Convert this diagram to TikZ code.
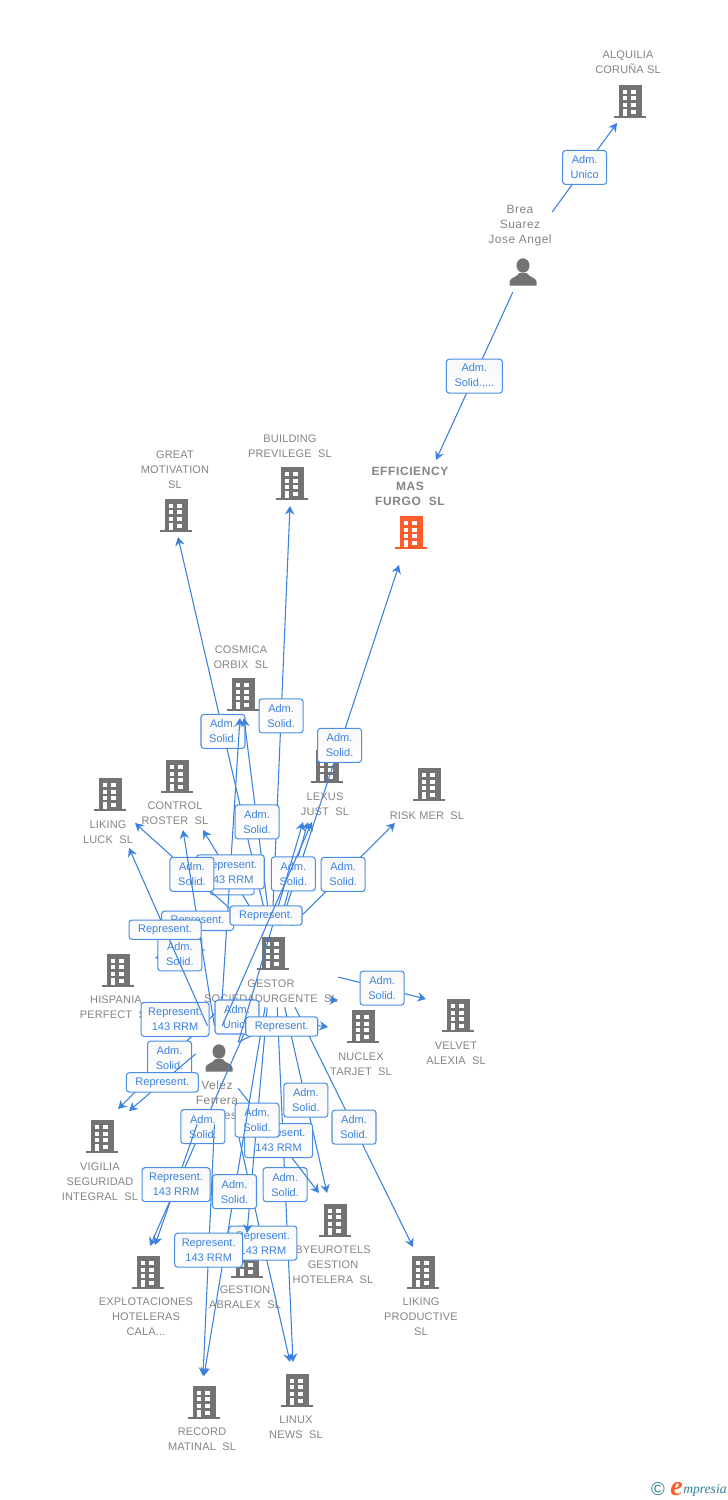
\documentclass[tikz,border=0pt]{standalone}
\usepackage{fontspec}
\usepackage{tikz}
\usetikzlibrary{arrows.meta, shapes.geometric}
\setmainfont{Liberation Sans}
\newfontfamily\firmfont[LetterSpace=1.5]{Liberation Sans}
\newfontfamily\personfont[LetterSpace=4]{Liberation Sans}
\newfontfamily\mainfirm[LetterSpace=5]{Liberation Sans}
\newfontfamily\logofont{Liberation Serif}
\definecolor{relblue}{HTML}{3B82E0}
\definecolor{relborder}{HTML}{4A90E2}
\definecolor{iconcol}{HTML}{737373}
\definecolor{labelcol}{HTML}{858585}
\definecolor{mainorange}{HTML}{FF5C2B}
\definecolor{logoteal}{HTML}{2E7F9B}
\tikzset{
  pics/building/.style={code={
    \fill[#1] (-11.5,-16.5) rectangle (11.5,14.5);
    \fill[#1] (-16,14.5) rectangle (16,16.5);
    \foreach \wy in {-11.5,-4.8,1.8,8.5}
      \fill[white] (0.9,\wy) rectangle (6,\wy+4);
    \foreach \wy in {-11.5,-4.8,1.8}
      \fill[white] (-7.2,\wy) rectangle (-2.8,\wy+4);
    \fill[white] (-7.2,7.5) rectangle (-2.8,14.5);
  }},
  pics/person/.style={code={
    \fill[iconcol] (0,-6.5) ellipse [x radius=6.5, y radius=7.2];
    \fill[iconcol] (-13.5,13.5) -- (-13.5,9.5) .. controls (-13,5.5) and (-6.5,5.5) .. (-3.5,1)
      -- (3.5,1) .. controls (6.5,5.5) and (13,5.5) .. (13.5,9.5) -- (13.5,13.5) -- cycle;
  }}
}
\begin{document}
\begin{tikzpicture}[
  x=0.75pt, y=-0.75pt,
  >={Stealth[length=6.4pt, width=7pt]},
  firmlabel/.style={text=labelcol, inner sep=0pt, align=center, yshift=-0.75pt, font=\firmfont\fontsize{8.25}{11.25}\selectfont},
  personlabel/.style={text=labelcol, inner sep=0pt, align=center, font=\personfont\fontsize{9}{11.25}\selectfont},
  srcnode/.style={rectangle, inner sep=0pt},
  flow/.style={->, relblue, line width=0.8pt},
  relbox/.style={draw=relborder, line width=0.8pt, rounded corners=2.2pt, top color=black!3, bottom color=white, text=relblue,
    inner sep=0pt, align=center, minimum width=33pt, minimum height=25.5pt, font=\fontsize{8.25}{11.25}\selectfont},
  relwide/.style={relbox, minimum width=51pt},
  relflat/.style={relbox, minimum width=54pt, minimum height=14.5pt}
]
\useasboundingbox (0,0) rectangle (728,1500);
\fill[white] (0,0) rectangle (728,1500);

% source nodes
\node[srcnode, minimum width=48pt, minimum height=68.25pt] (brea) at (520,246.5) {};
\node[srcnode, minimum width=99.75pt, minimum height=60.75pt] (gestor) at (271.5,966.5) {};
\node[srcnode, minimum width=31.5pt, minimum height=73.5pt] (velez) at (217,1075) {};

% icons
\pic at (630,101) {building=iconcol};
\pic at (411,532.5) {building=mainorange};
\pic at (292,483.5) {building=iconcol};
\pic at (176,515) {building=iconcol};
\pic at (243,694.5) {building=iconcol};
\pic at (177,776.5) {building=iconcol};
\pic at (110,794.5) {building=iconcol};
\pic at (327,766.5) {building=iconcol};
\pic at (429,784.5) {building=iconcol};
\pic at (273,953.5) {building=iconcol};
\pic at (118,970) {building=iconcol};
\pic at (363,1026.5) {building=iconcol};
\pic at (458,1015.5) {building=iconcol};
\pic at (102,1136.5) {building=iconcol};
\pic at (148,1272.5) {building=iconcol};
\pic at (247,1261) {building=iconcol};
\pic at (335,1220) {building=iconcol};
\pic at (423,1272.5) {building=iconcol};
\pic at (204,1402) {building=iconcol};
\pic at (297,1390) {building=iconcol};
\pic at (523,272) {person};
\pic at (219,1058) {person};

% labels
\node[firmlabel] (lAlquilia) at (628,61.5) {ALQUILIA\\CORUÑA SL};
\node[personlabel] (lBrea) at (520,226) {Brea\\Suarez\\Jose Angel};
\node[firmlabel, font=\mainfirm\bfseries\fontsize{9}{11.25}\selectfont] (lEfficiency) at (410,485) {EFFICIENCY\\MAS\\FURGO~~SL};
\node[firmlabel] (lPrevilege) at (290,445.5) {BUILDING\\PREVILEGE~~SL};
\node[firmlabel] (lGreat) at (175,469) {GREAT\\MOTIVATION\\SL};
\node[firmlabel] (lCosmica) at (241,656.5) {COSMICA\\ORBIX~~SL};
\node[firmlabel] (lControl) at (175,812.5) {CONTROL\\ROSTER~~SL};
\node[firmlabel] (lLuck) at (108,831.5) {LIKING\\LUCK~~SL};
\node[firmlabel] (lLexus) at (325,803.5) {LEXUS\\JUST~~SL};
\node[firmlabel] (lRisk) at (427,815) {RISK MER~~SL};
\node[firmlabel] (lGestor) at (271,990.5) {GESTOR\\SOCIEDADURGENTE~~SL};
\node[firmlabel] (lHispania) at (116,1006.5) {HISPANIA\\PERFECT~~SL};
\node[firmlabel] (lNuclex) at (361,1063.5) {NUCLEX\\TARJET~~SL};
\node[firmlabel] (lVelvet) at (456,1052.5) {VELVET\\ALEXIA~~SL};
\node[personlabel] (lVelez) at (217,1100) {Velez\\Ferrera\\\phantom{Andr}es};
\node[firmlabel] (lVigilia) at (100,1181) {VIGILIA\\SEGURIDAD\\INTEGRAL~~SL};
\node[firmlabel] (lByeurotels) at (333,1264) {BYEUROTELS\\GESTION\\HOTELERA~~SL};
\node[firmlabel] (lProductive) at (421,1316) {LIKING\\PRODUCTIVE\\SL};
\node[firmlabel] (lExplot) at (146,1316) {EXPLOTACIONES\\HOTELERAS\\CALA...};
\node[firmlabel] (lAbralex) at (245,1296.5) {GESTION\\ABRALEX~~SL};
\node[firmlabel] (lRecord) at (202,1438.5) {RECORD\\MATINAL~~SL};
\node[firmlabel] (lLinux) at (296,1426.5) {LINUX\\NEWS~~SL};

% arrow ends
\coordinate (tAlquilia) at (617,123);
\coordinate (tEfficiencyA) at (436,460);
\coordinate (tEfficiencyB) at (399,565);
\coordinate (tPrevilege) at (290,506);
\coordinate (tGreat) at (178,537);
\coordinate (tCosmicaA) at (244,718);
\coordinate (tCosmicaB) at (240,718);
\coordinate (tControlA) at (203,830);
\coordinate (tControlB) at (183,830);
\coordinate (tLuckA) at (135,823);
\coordinate (tLuckB) at (129,848);
\coordinate (tLexusA) at (308,822);
\coordinate (tLexusB) at (303,822);
\coordinate (tLexusC) at (312,822);
\coordinate (tRisk) at (395,823);
\coordinate (tHispaniaA) at (155,958);
\coordinate (tHispaniaB) at (141,1013);
\coordinate (tVelvet) at (426,999);
\coordinate (tNuclexA) at (328,1027);
\coordinate (tNuclexB) at (338,1000);
\coordinate (sNuclexB) at (330,1000);
\coordinate (tVigiliaA) at (118,1109);
\coordinate (tVigiliaB) at (129,1111);
\coordinate (tExplotA) at (150,1246);
\coordinate (tExplotB) at (155,1245);
\coordinate (tAbralex) at (247,1233);
\coordinate (tByeuroA) at (327,1193);
\coordinate (tByeuroB) at (319,1193);
\coordinate (tProductive) at (413,1247);
\coordinate (tRecordA) at (204,1376);
\coordinate (tRecordB) at (203,1376);
\coordinate (tLinuxA) at (293,1362);
\coordinate (tLinuxB) at (290,1362);

% brea
\draw[flow] (brea.47) -- node[relbox] (rAlquilia) {Adm.\\Unico} (tAlquilia);
\draw[flow] (brea.-99) -- node[relbox, minimum width=42pt] (rEfficiencyA) {Adm.\\Solid.,...} (tEfficiencyA);

% gestor, upwards
\draw[flow] (gestor.95) -- node[relbox] (rGreat) {Adm.\\Solid.} (tGreat);
\draw[flow] (gestor.89) -- node[relbox] (rPrevilege) {Adm.\\Solid.} (tPrevilege);
\draw[flow] (gestor.78) -- node[relbox] (rEfficiencyB) {Adm.\\Solid.} (tEfficiencyB);
\draw[flow] (gestor.92) -- node[relbox] (rCosmicaA) {Adm.\\Solid.} (tCosmicaA);
\draw[flow] (gestor.104) -- node[relbox] (rControlA) {} (tControlA);
\draw[flow] (gestor.64) -- node[relbox] (rRisk) {Adm.\\Solid.} (tRisk);
\draw[flow] (gestor.80) -- node[relbox] (rLexusA) {Adm.\\Solid.} (tLexusA);

% gestor, sideways and down
\draw[flow] (gestor.166) -- node[relbox] (rHispaniaA) {Adm.\\Solid.} (tHispaniaA);
\draw[flow] (gestor.-9) -- node[relbox] (rVelvet) {Adm.\\Solid.} (tVelvet);
\draw[flow] (sNuclexB) -- (tNuclexB);
\draw[flow] (gestor.-141) -- node[relbox] (rVigiliaA) {Adm.\\Solid.} (tVigiliaA);
\draw[flow] (gestor.-72) -- node[relbox] (rByeuroA) {Adm.\\Solid.} (tByeuroA);
\draw[flow] (gestor.-60) -- node[relbox] (rProductive) {Adm.\\Solid.} (tProductive);
\draw[flow] (gestor.-111) -- node[relbox] (rExplotA) {Adm.\\Solid.} (tExplotA);
\draw[flow] (gestor.-82) -- node[relbox] (rLinuxA) {Adm.\\Solid.} (tLinuxA);
\draw[flow] (velez.-32) -- node[relwide] (rByeuroB) {Represent.\\143 RRM} (tByeuroB);
\draw[flow] (velez.-69) -- node[relwide] (rLinuxB) {Represent.\\143 RRM} (tLinuxB);
\draw[flow] (gestor.-96) -- node[relbox] (rAbralex) {Adm.\\Solid.} (tAbralex);
\draw[flow] (gestor.-99) -- node[relbox] (rRecordA) {Adm.\\Solid.} (tRecordA);

% velez
\draw[flow] (velez.86) -- node[relwide] (rCosmicaB) {Represent.\\143 RRM} (tCosmicaB);
\draw[flow] (gestor.119) -- node[relbox] (rLuckA) {Adm.\\Solid.} (tLuckA);
\draw[flow] (velez.93) -- node[relflat, pos=0.536] (rControlB) {Represent.} (tControlB);
\draw[flow] (velez.99) -- node[relwide] (rHispaniaB) {Represent.\\143 RRM} (tHispaniaB);
\draw[flow] (velez.101) -- node[relflat, pos=0.54] (rLuckB) {Represent.} (tLuckB);
\draw[flow] (velez.135) -- node[relflat] (rVigiliaB) {Represent.} (tVigiliaB);
\draw[flow] (velez.-112) -- node[relwide] (rExplotB) {Represent.\\143 RRM} (tExplotB);
\draw[flow] (velez.-93) -- node[relwide] (rRecordB) {Represent.\\143 RRM} (tRecordB);

% gestor to velez, then the two last ones
\draw[flow] (gestor.-125) -- (velez.70);
\node[relbox] (rVelez) at (237,1017) {Adm.\\Unico};
\draw[flow] (velez.57) to[bend left=18] node[relflat] (rNuclex) {Represent.} (tNuclexA);
\draw[flow] (velez.57) -- (tLexusB);
\node[relflat] (rLexusB) at (266,915.5) {Represent.};
\draw[flow] (velez.84) -- (tLexusC);

% logo
\node[inner sep=0pt, text=logoteal, font=\fontsize{14}{14}\selectfont] (lCopy) at (658,1489) {©};
\node[inner sep=0pt, anchor=base west, text=mainorange, font=\logofont\itshape\bfseries\fontsize{21}{21}\selectfont] (lLogoE) at (670,1495) {e};
\node[inner sep=0pt, anchor=base west, text=logoteal, font=\logofont\itshape\fontsize{10.2}{12}\selectfont] (lLogo) at (683,1493) {mpresia};
\end{tikzpicture}
\end{document}
